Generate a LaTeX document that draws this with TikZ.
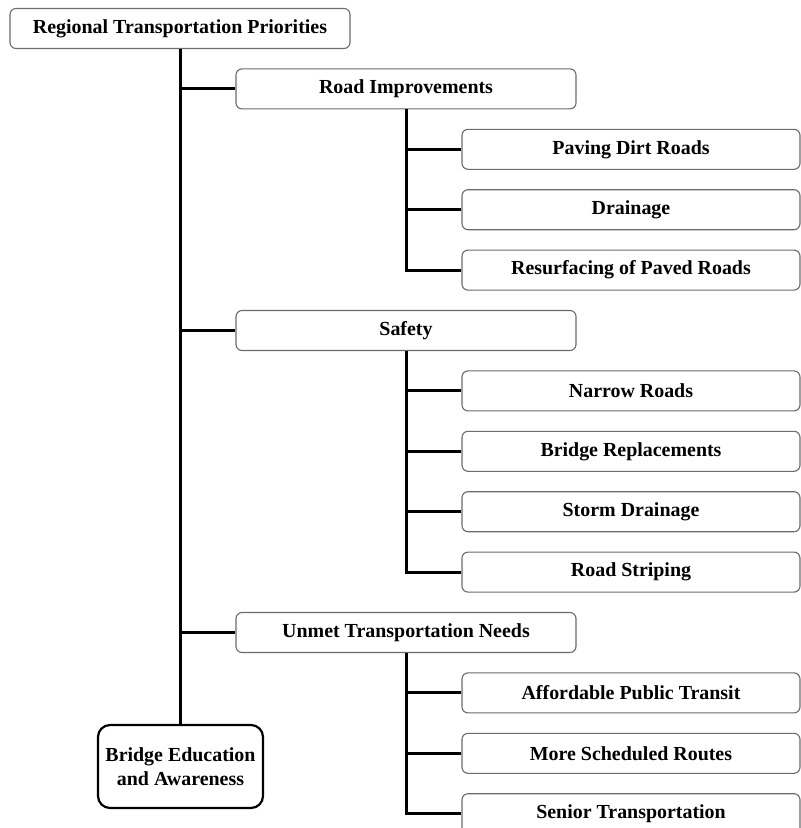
\documentclass[tikz,border=0pt]{standalone}
\usepackage{fontspec}
\setmainfont{Liberation Serif}
\begin{document}
\begin{tikzpicture}[x=1bp,y=-1bp,
  box/.style={draw=black!58, line width=1.1bp, fill=white, rounded corners=6bp,
    minimum height=40bp, inner sep=0pt, align=center,
    font=\fontsize{20}{24}\selectfont\bfseries},
  lvone/.style={box, minimum width=340bp},
  lvthree/.style={box, minimum width=338bp},
  endbox/.style={box, draw=black, line width=2.2bp, rounded corners=12bp,
    minimum width=165bp, minimum height=83bp},
  link/.style={draw=black, line width=3bp}]
\useasboundingbox (0,0) rectangle (801,828);
\clip (0,0) rectangle (801,828);
\def\rowy#1{28.5+60.4*#1}
\node[lvone] (top) at (180,{\rowy{0}}) {Regional Transportation Priorities};
\node[lvone] (road) at (406,{\rowy{1}}) {Road Improvements};
\node[lvthree] (pave) at (631,{\rowy{2}}) {Paving Dirt Roads};
\node[lvthree] (drain) at (631,{\rowy{3}}) {Drainage};
\node[lvthree] (resurf) at (631,{\rowy{4}}) {Resurfacing of Paved Roads};
\node[lvone] (safety) at (406,{\rowy{5}}) {Safety};
\node[lvthree] (narrow) at (631,{\rowy{6}}) {Narrow Roads};
\node[lvthree] (bridge) at (631,{\rowy{7}}) {Bridge Replacements};
\node[lvthree] (storm) at (631,{\rowy{8}}) {Storm Drainage};
\node[lvthree] (stripe) at (631,{\rowy{9}}) {Road Striping};
\node[lvone] (unmet) at (406,{\rowy{10}}) {Unmet Transportation Needs};
\node[lvthree] (afford) at (631,{\rowy{11}}) {Affordable Public Transit};
\node[lvthree] (sched) at (631,{\rowy{12}}) {More Scheduled Routes};
\node[lvthree] (senior) at (631,{\rowy{13}}) {Senior Transportation};
\node[endbox] (educ) at (180.5,766.5) {Bridge Education\\and Awareness};
\path[link] (top.south) -- (top.south |- educ.north);
\path[link] (top.south |- road.west) -- (road.west);
\path[link] (top.south |- safety.west) -- (safety.west);
\path[link] (top.south |- unmet.west) -- (unmet.west);
\path[link] (road.south) -- (road.south |- resurf.west) -- (resurf.west);
\path[link] (road.south |- pave.west) -- (pave.west);
\path[link] (road.south |- drain.west) -- (drain.west);
\path[link] (safety.south) -- (safety.south |- stripe.west) -- (stripe.west);
\path[link] (safety.south |- narrow.west) -- (narrow.west);
\path[link] (safety.south |- bridge.west) -- (bridge.west);
\path[link] (safety.south |- storm.west) -- (storm.west);
\path[link] (unmet.south) -- (unmet.south |- senior.west) -- (senior.west);
\path[link] (unmet.south |- afford.west) -- (afford.west);
\path[link] (unmet.south |- sched.west) -- (sched.west);
\end{tikzpicture}
\end{document}
